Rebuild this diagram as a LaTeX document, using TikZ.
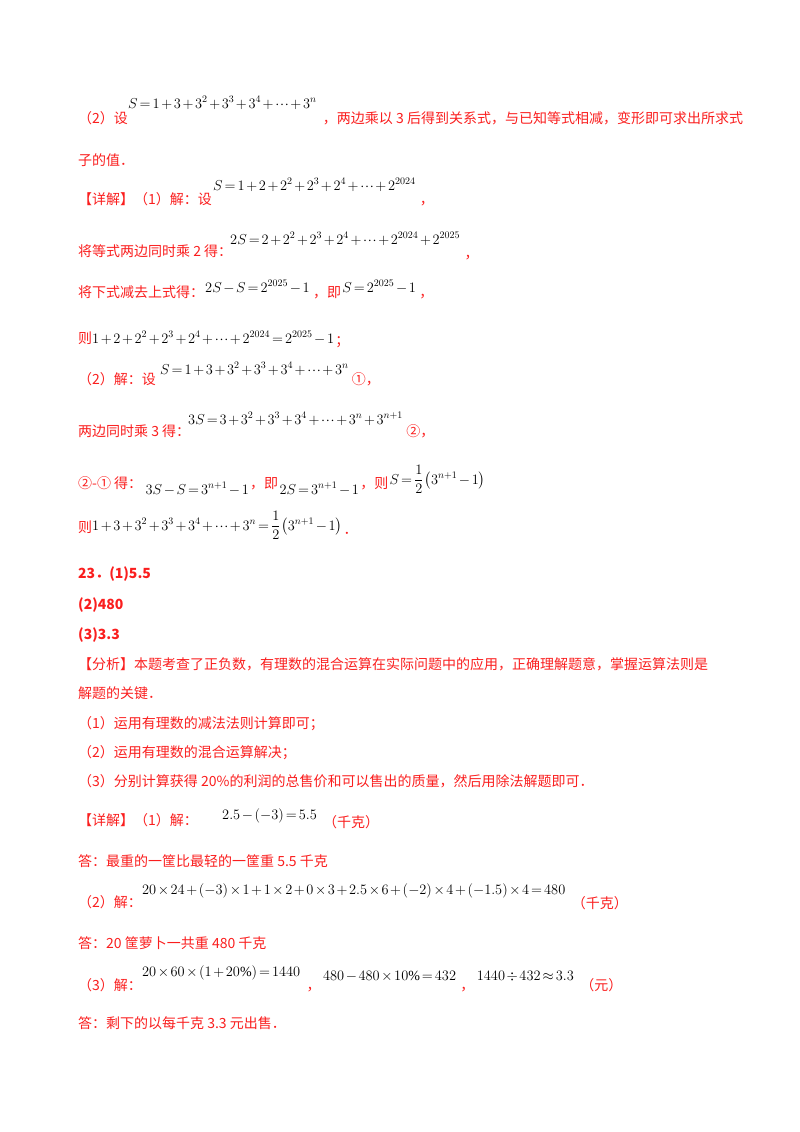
\documentclass[tikz,border=0pt]{standalone}
\usepackage{fontspec}
\setmainfont{Liberation Serif}
\newfontfamily\cjk{Noto Sans CJK SC}
\usepackage{amsmath}
\definecolor{ared}{RGB}{250,30,30}
\newcommand{\tight}{\thinmuskip=1mu\medmuskip=2mu\thickmuskip=2.5mu}
\tikzset{
 t/.style={anchor=base west,inner sep=0pt,text=ared,font=\cjk\fontsize{14}{16}\selectfont},
 tb/.style={t,font=\cjk\bfseries\fontsize{14}{16}\selectfont},
 m/.style={anchor=base west,inner sep=0pt,text=black,font=\fontsize{14}{16}\selectfont\tight}
}
\begin{document}
\begin{tikzpicture}[x=1pt,y=-1pt]
\useasboundingbox (0,0) rectangle (800,1132);
\node[t] (a1) at (78,123) {（2）设};
\node[m] (a2) at (128,108) {$S=1+3+3^2+3^3+3^4+\cdots+3^n$};
\node[t] (a3) at ([xshift=6pt,yshift=-15pt]a2.base east) {，两边乘以 3 后得到关系式，与已知等式相减，变形即可求出所求式};
\node[t] (b1) at (78,165) {子的值．};
\node[t] (c1) at (78,204) {【详解】（1）解：设};
\node[m] (c2) at (213,190) {$S=1+2+2^2+2^3+2^4+\cdots+2^{2024}$};
\node[t] (c3) at ([xshift=4pt,yshift=-14pt]c2.base east) {，};
\node[t] (d1) at (78,256) {将等式两边同时乘 2 得：};
\node[m] (d2) at (230,244) {$2S=2+2^2+2^3+2^4+\cdots+2^{2024}+2^{2025}$};
\node[t] (d3) at ([xshift=4pt,yshift=-14pt]d2.base east) {，};
\node[t] (e1) at (78,297) {将下式减去上式得：};
\node[m] (e2) at (205,292) {$2S-S=2^{2025}-1$};
\node[t] (e3) at ([xshift=3pt,yshift=-5pt]e2.base east) {，即};
\node[m] (e4) at ([xshift=1pt,yshift=5pt]e3.base east) {$S=2^{2025}-1$};
\node[t] (e5) at ([xshift=3pt,yshift=-5pt]e4.base east) {，};
\node[t] (f1) at (78,343) {则};
\node[m] (f2) at (92,343) {$1+2+2^2+2^3+2^4+\cdots+2^{2024}=2^{2025}-1$};
\node[t] (f3) at ([xshift=1pt,yshift=-2pt]f2.base east) {；};
\node[t] (g1) at (78,384) {（2）解：设};
\node[m] (g2) at (160,374) {$S=1+3+3^2+3^3+3^4+\cdots+3^n$};
\node[t] (g3) at ([xshift=3pt,yshift=-10pt]g2.base east) {①，};
\node[t] (h1) at (78,436) {两边同时乘 3 得：};
\node[m] (h2) at (188,424) {$3S=3+3^2+3^3+3^4+\cdots+3^n+3^{n+1}$};
\node[t] (h3) at ([xshift=3pt,yshift=-12pt]h2.base east) {②，};
\node[t] (i1) at (78,488) {②-① 得：};
\node[m] (i2) at ([xshift=3pt,yshift=-6pt]i1.base east) {$3S-S=3^{n+1}-1$};
\node[t] (i3) at ([xshift=1pt,yshift=6pt]i2.base east) {，即};
\node[m] (i4) at ([xshift=1pt,yshift=-6pt]i3.base east) {$2S=3^{n+1}-1$};
\node[t] (i5) at ([xshift=1pt,yshift=6pt]i4.base east) {，则};
\node[m] (i6) at ([xshift=1pt,yshift=4pt]i5.base east) {$S=\dfrac{1}{2}\left(3^{n+1}-1\right)$};
\node[t] (j1) at (78,532) {则};
\node[m] (j2) at (92,530) {$1+3+3^2+3^3+3^4+\cdots+3^n=\dfrac{1}{2}\left(3^{n+1}-1\right)$};
\node[t] (j3) at ([xshift=1pt,yshift=-4pt]j2.base east) {．};
\node[tb] (k1) at (78,578) {23．(1)5.5};
\node[tb] (k2) at (78,609) {(2)480};
\node[tb] (k3) at (78,639) {(3)3.3};
\node[t] (l1) at (78,669) {【分析】本题考查了正负数，有理数的混合运算在实际问题中的应用，正确理解题意，掌握运算法则是};
\node[t] (l2) at (78,698) {解题的关键．};
\node[t] (l3) at (78,728) {（1）运用有理数的减法法则计算即可；};
\node[t] (l4) at (78,757) {（2）运用有理数的混合运算解决；};
\node[t] (l5) at (78,786) {（3）分别计算获得 20\%的利润的总售价和可以售出的质量，然后用除法解题即可．};
\node[t] (n1) at (78,825) {【详解】（1）解：};
\node[m] (n2) at (222,819) {$2.5-(-3)=5.5$};
\node[t] (n3) at ([xshift=6pt,yshift=-8pt]n2.base east) {（千克）};
\node[t] (o1) at (78,866) {答：最重的一筐比最轻的一筐重 5.5 千克};
\node[t] (p1) at (78,907) {（2）解：};
\node[m] (p2) at (142,894) {$20\times24+(-3)\times1+1\times2+0\times3+2.5\times6+(-2)\times4+(-1.5)\times4=480$};
\node[t] (p3) at ([xshift=6pt,yshift=-14pt]p2.base east) {（千克）};
\node[t] (q1) at (78,948) {答：20 筐萝卜一共重 480 千克};
\node[t] (r1) at (78,990) {（3）解：};
\node[m] (r2) at (142,976) {$20\times60\times\left(1+20\%\right)=1440$};
\node[t] (r3) at ([xshift=6pt,yshift=-14pt]r2.base east) {，};
\node[m] (r4) at ([xshift=2pt,yshift=10pt]r3.base east) {$480-480\times10\%=432$};
\node[t] (r5) at ([xshift=4pt,yshift=-10pt]r4.base east) {，};
\node[m] (r6) at ([xshift=2pt,yshift=10pt]r5.base east) {$1440\div432\approx3.3$};
\node[t] (r7) at ([xshift=6pt,yshift=-10pt]r6.base east) {（元）};
\node[t] (s1) at (78,1028) {答：剩下的以每千克 3.3 元出售．};
\end{tikzpicture}
\end{document}
